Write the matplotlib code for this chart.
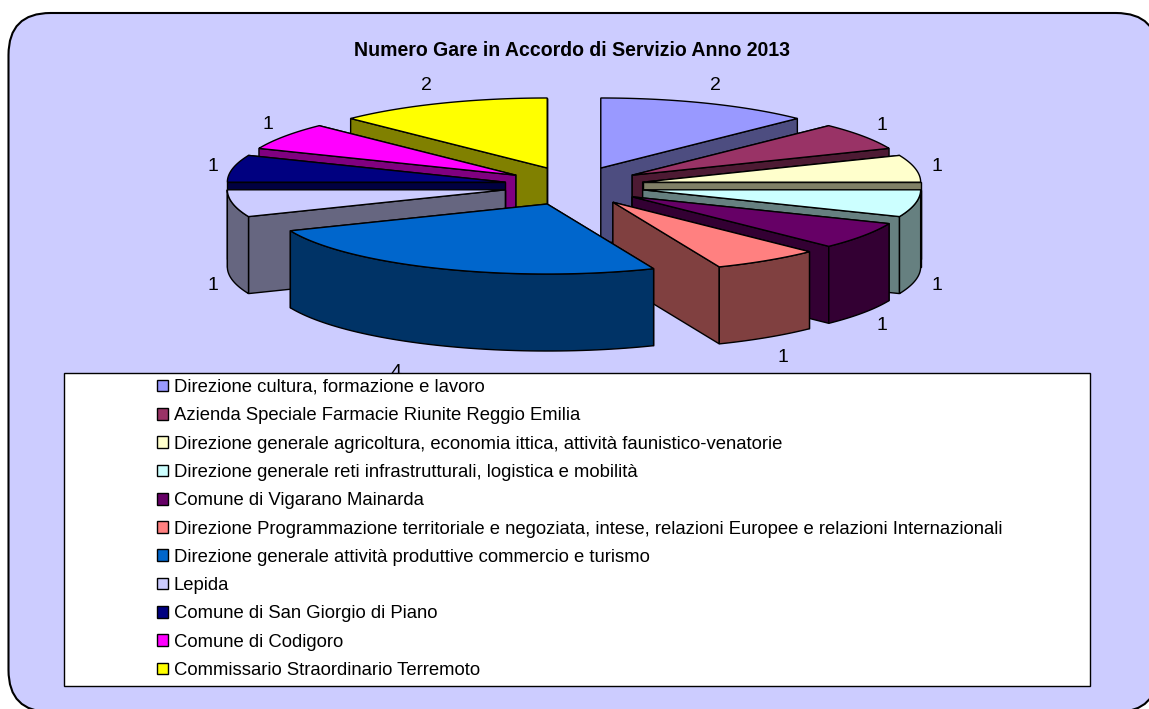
import numpy as np
import matplotlib
matplotlib.use('Agg')
import matplotlib.pyplot as plt
from matplotlib.patches import FancyBboxPatch, Polygon, Rectangle, Patch

title = 'Numero Gare in Accordo di Servizio Anno 2013'
categories = [
    'Direzione cultura, formazione e lavoro',
    'Azienda Speciale Farmacie Riunite Reggio Emilia',
    'Direzione generale agricoltura, economia ittica, attività faunistico-venatorie',
    'Direzione generale reti infrastrutturali, logistica e mobilità',
    'Comune di Vigarano Mainarda',
    'Direzione Programmazione territoriale e negoziata, intese, relazioni Europee e relazioni Internazionali',
    'Direzione generale attività produttive commercio e turismo',
    'Lepida',
    'Comune di San Giorgio di Piano',
    'Comune di Codigoro',
    'Commissario Straordinario Terremoto',
]
values = [2, 1, 1, 1, 1, 1, 4, 1, 1, 1, 2]
top_colors = ['#9999FF', '#993366', '#FFFFCC', '#CCFFFF', '#660066', '#FF8080',
              '#0066CC', '#CCCCFF', '#000080', '#FF00FF', '#FFFF00']
side_colors = ['#4D4D80', '#4D1A33', '#808066', '#668080', '#330033', '#804040',
               '#003366', '#666680', '#000040', '#800080', '#808000']

# pie geometry, in pixels
cx, cy = 574, 186
rx, ry = 278, 70
depth = 77
explode_x, explode_y = 70, 19.5
label_rx, label_ry = 300, 90.5
label_nudge = {1: (0, -1), 5: (3, 2), 6: (-36, 6), 7: (2, 0), 8: (2, 0), 9: (2, -2), 10: (-6, 0)}


def point(ax0, ay0, a, radius_x=rx, radius_y=ry):
    # angle in degrees, clockwise from 12 o'clock
    t = np.radians(a)
    return ax0 + radius_x * np.sin(t), ay0 - radius_y * np.cos(t)


def wall(ax, apex, a, color, z):
    x, y = point(apex[0], apex[1], a)
    pts = [apex, (x, y), (x, y + depth), (apex[0], apex[1] + depth)]
    ax.add_patch(Polygon(pts, closed=True, fc=color, ec='black', lw=1.0, zorder=z))


def draw_slice(ax, start, end, top, side, z):
    mid = (start + end) / 2
    apex = point(cx, cy, mid, explode_x, explode_y)
    # the wall further back goes first
    for a in sorted([start, end], key=lambda b: -np.cos(np.radians(b))):
        wall(ax, apex, a, side, z)
    # outer rim, only the front half can be seen
    a0, a1 = max(start, 90), min(end, 270)
    if a1 > a0:
        angles = np.linspace(a0, a1, 60)
        xs, ys = point(apex[0], apex[1], angles)
        pts = list(zip(xs, ys)) + list(zip(xs[::-1], ys[::-1] + depth))
        ax.add_patch(Polygon(pts, closed=True, fc=side, ec='black', lw=1.0, zorder=z))
    angles = np.linspace(start, end, 60)
    xs, ys = point(apex[0], apex[1], angles)
    pts = [apex] + list(zip(xs, ys))
    ax.add_patch(Polygon(pts, closed=True, fc=top, ec='black', lw=1.0, zorder=z))
    return apex, mid


def main():
    plt.rcParams['font.family'] = ['Liberation Sans', 'DejaVu Sans']
    fig = plt.figure(figsize=(11.49, 7.09), dpi=100, facecolor='white')
    ax = fig.add_axes([0, 0, 1, 1])
    ax.set_xlim(0, 1149)
    ax.set_ylim(709, 0)
    ax.axis('off')

    # rounded chart area, runs off the right and bottom edges
    r = 42
    ax.add_patch(FancyBboxPatch((8.5 + r, 13 + r), 1158 - 8.5 - 2 * r, 712 - 13 - 2 * r,
                                boxstyle='round,pad=%d,rounding_size=%d' % (r, r),
                                fc='#CCCCFF', ec='black', lw=1.5, zorder=0))
    ax.text(571.5, 50.5, title, ha='center', va='center', fontsize=14.05,
            fontweight='bold', color='black', zorder=3)

    step = 360 / sum(values)
    edges = np.cumsum([0] + values) * step
    mids = (edges[:-1] + edges[1:]) / 2
    # back slices first
    order = np.argsort(-np.cos(np.radians(mids)), kind='stable')
    for z, i in enumerate(order):
        apex, mid = draw_slice(ax, edges[i], edges[i + 1], top_colors[i], side_colors[i], 1 + z * 0.01)
        lx, ly = point(apex[0], apex[1], mid, label_rx, label_ry)
        if 90 < mid < 270:
            ly += depth
        nx, ny = label_nudge.get(i, (0, 0))
        ax.text(lx + nx, ly + ny + 1.5, str(values[i]), ha='center', va='center',
                fontsize=14, color='black', zorder=3)

    # legend box goes over the labels
    ax.add_patch(Rectangle((63.5, 372.5), 1026, 313, fc='white', ec='black', lw=1.0, zorder=4))
    handles = [Patch(fc=c, ec='black', lw=1.0) for c in top_colors]
    fs = 13.3
    ax.legend(handles, categories, loc='upper left', bbox_to_anchor=(157, 379),
              bbox_transform=ax.transData, frameon=False, fontsize=fs,
              handlelength=0.6, handleheight=0.6, handletextpad=0.32,
              labelspacing=0.612, borderpad=0, borderaxespad=0)

    fig.savefig('out.png', dpi=100)


if __name__ == '__main__':
    main()
